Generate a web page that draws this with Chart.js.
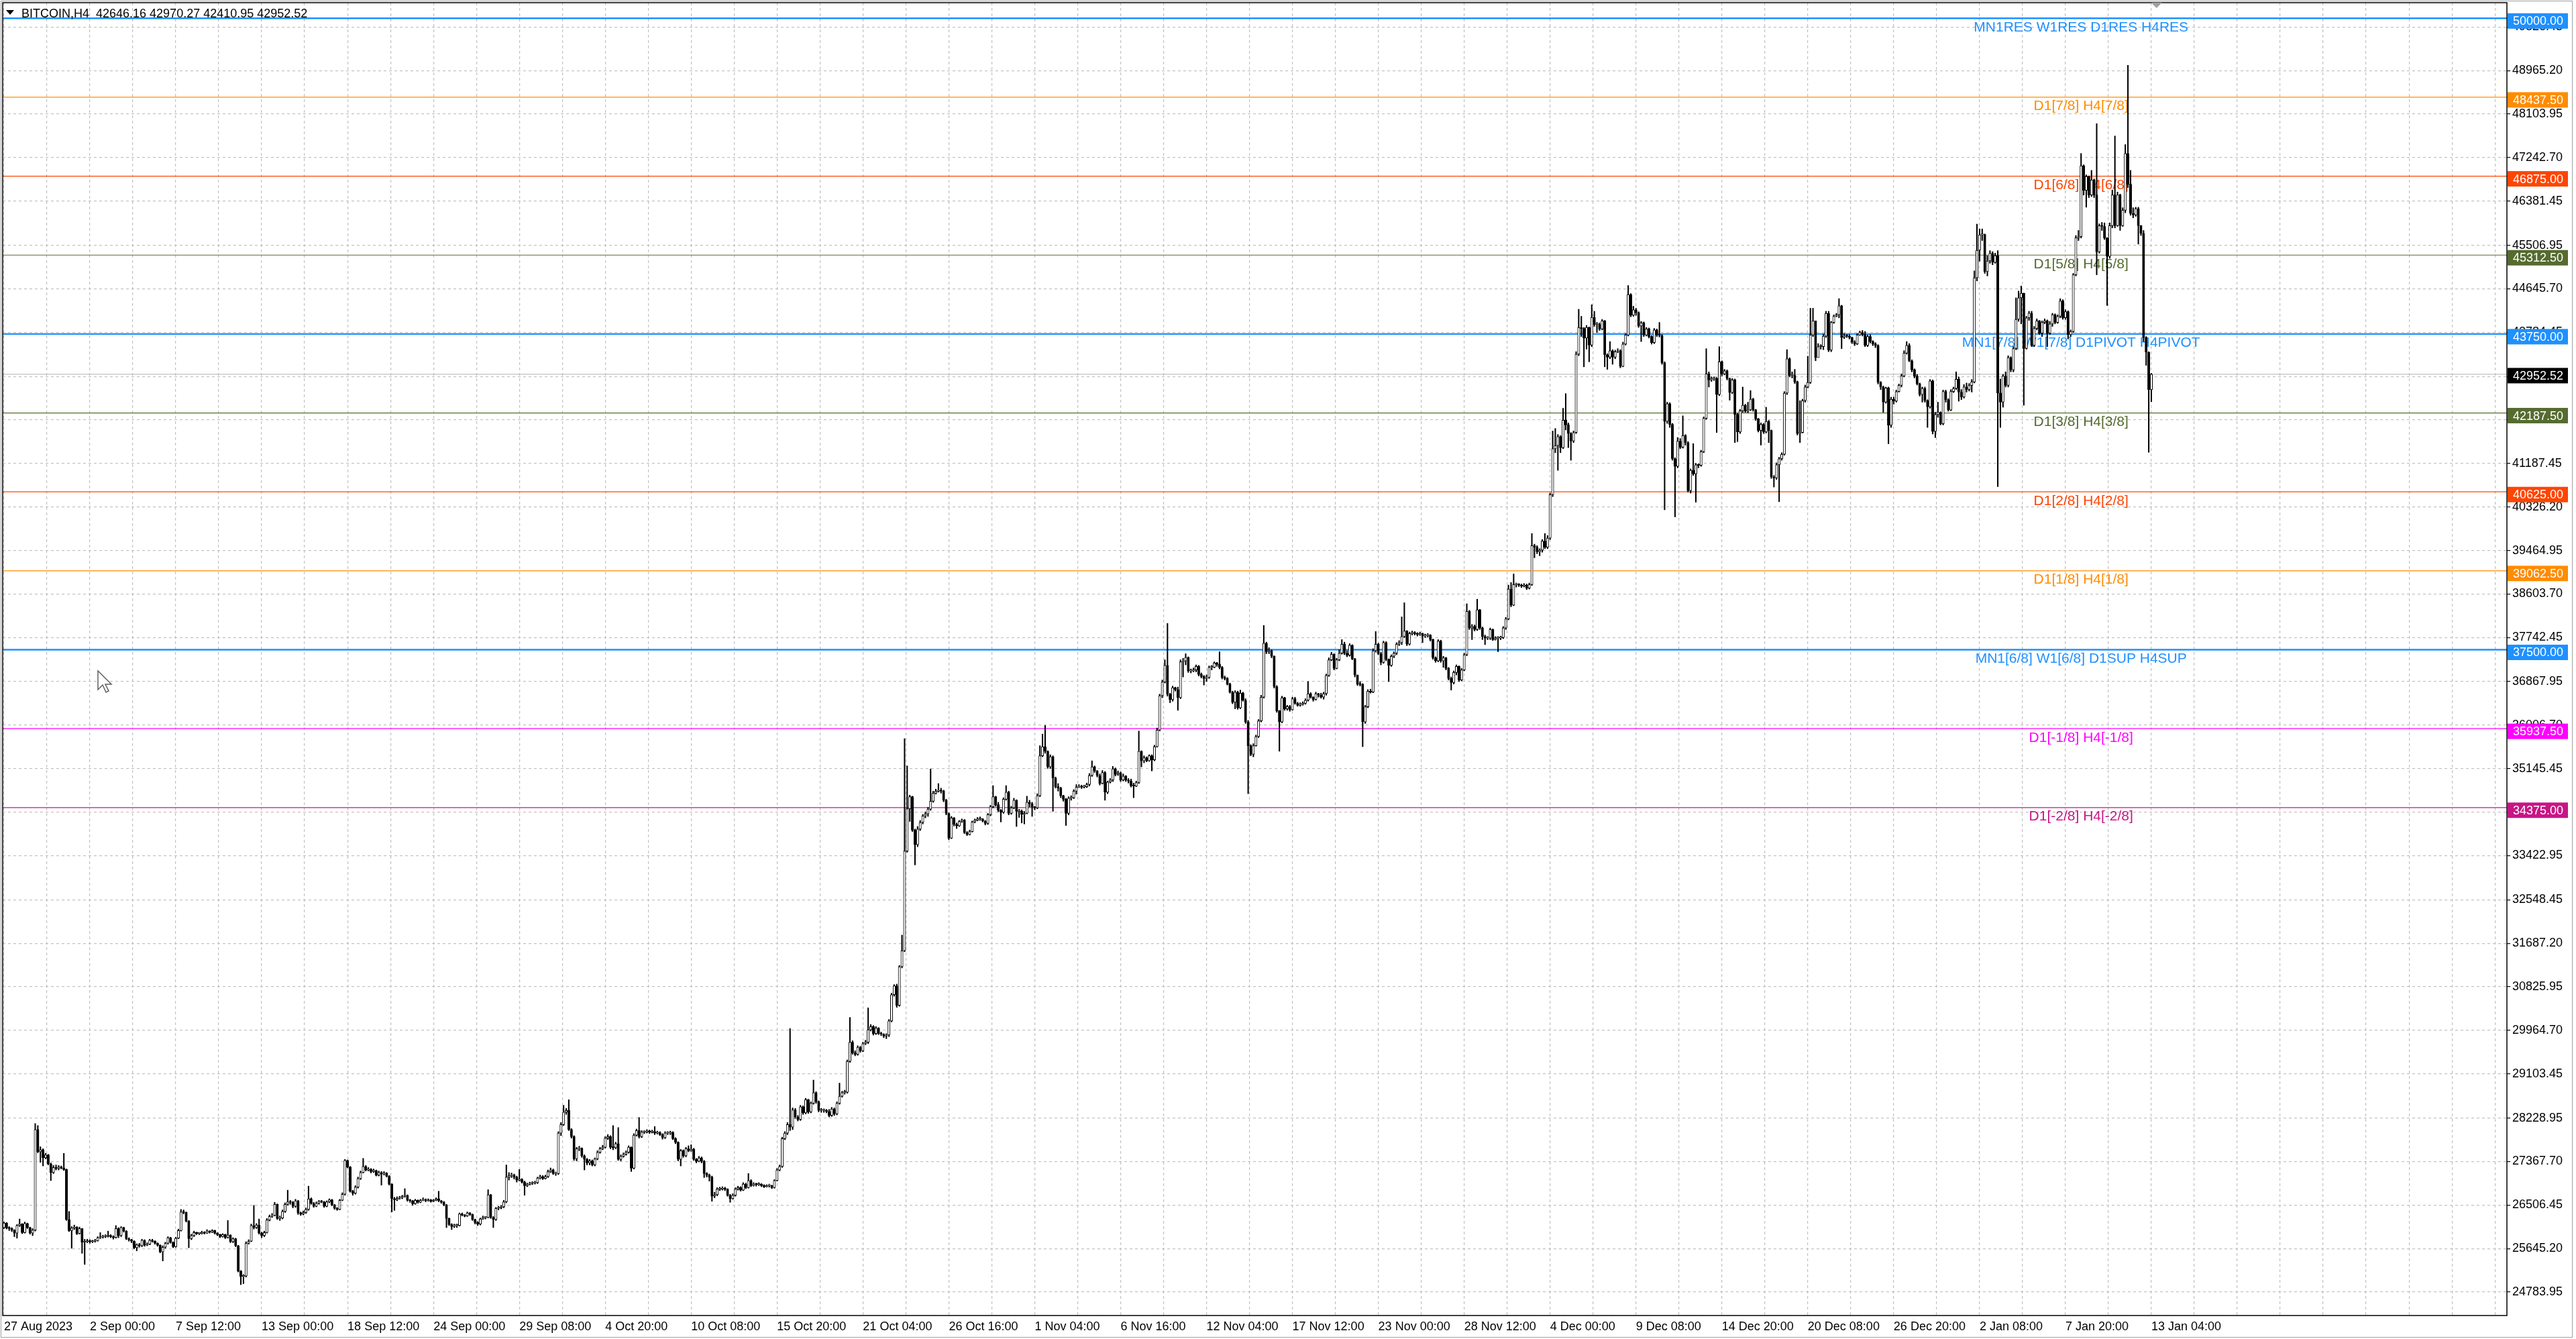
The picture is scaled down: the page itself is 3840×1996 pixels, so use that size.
<!DOCTYPE html>
<html>
<head>
<meta charset="utf-8">
<title>BITCOIN,H4</title>
<script src="https://cdn.jsdelivr.net/npm/chart.js@4.4.0/dist/chart.umd.min.js"></script>
<style>
  html, body { margin: 0; padding: 0; background: #fff; overflow: hidden; }
  #wrap { position: relative; width: 100vw; height: 100vh; }
</style>
</head>
<body>
<div id="wrap"><canvas id="chart"></canvas></div>
<script>
// ---- data (one entry per 4h bar, open = previous close) ----
const symbolName = 'BITCOIN,H4';
const firstOpen = 26060;

const closes = [
  // 0
  26150, 26050, 26040, 26010, 25950, 26100, 26130, 25960, 26140, 26060,
  25950, 26010, 28000, 27560, 27600, 27440, 27500, 27320, 27150, 27250,
  27230, 27260, 27240, 27210, 26220, 26000, 26050, 26070, 25940, 26040,
  25770, 25780, 25800, 25780, 25790, 25800, 25860, 25870, 25880, 25890,
  25900, 25880, 25860, 26040, 25900, 26060, 25990, 25840, 25820, 25790,
  25660, 25720, 25700, 25810, 25710, 25730, 25810, 25790, 25750, 25710,
  25580, 25670, 25750, 25860, 25770, 25680, 25850, 26000, 26370, 26360,
  26190, 25840, 25900, 25960, 25940, 25940, 25960, 25950, 25990, 25970,
  26000, 25950, 25920, 25880, 25920, 25860, 25910, 25780, 25840, 25700,
  25200, 25090, 25100, 25750, 25790, 26100, 26060, 26110, 25950, 25900,
  // 100
  25960, 26210, 26280, 26300, 26520, 26240, 26250, 26380, 26520, 26570,
  26560, 26480, 26590, 26350, 26330, 26360, 26420, 26630, 26540, 26480,
  26540, 26580, 26570, 26480, 26570, 26610, 26510, 26440, 26420, 26600,
  26720, 27390, 27260, 26780, 26740, 26860, 27030, 27150, 27270, 27200,
  27210, 27170, 27190, 27100, 27150, 27120, 27140, 27080, 26920, 26630,
  26610, 26640, 26650, 26680, 26700, 26600, 26590, 26530, 26600, 26560,
  26600, 26620, 26590, 26610, 26580, 26600, 26630, 26590, 26560, 26510,
  26240, 26120, 26080, 26100, 26100, 26330, 26310, 26290, 26350, 26320,
  26220, 26160, 26130, 26230, 26260, 26260, 26710, 26260, 26220, 26440,
  26450, 26470, 26570, 27060, 27090, 27100, 27060, 27000, 27010, 26960,
  // 200
  26890, 26910, 26940, 26940, 26950, 27040, 27070, 27030, 27070, 27165,
  27200, 27130, 27130, 27930, 28100, 28345, 28380, 28000, 27860, 27420,
  27620, 27630, 27480, 27410, 27340, 27380, 27300, 27420, 27550, 27620,
  27650, 27830, 27860, 27650, 27640, 27720, 27410, 27470, 27510, 27550,
  27650, 27235, 27890, 27980, 27860, 27950, 27950, 27975, 27950, 27960,
  27930, 27940, 27900, 27840, 27930, 27930, 27940, 27820, 27750, 27410,
  27580, 27480, 27620, 27580, 27610, 27410, 27370, 27440, 27370, 27130,
  27100, 27060, 26680, 26710, 26820, 26820, 26840, 26820, 26700, 26630,
  26700, 26820, 26850, 26800, 26920, 26850, 26990, 26890, 26920, 26910,
  26920, 26890, 26870, 26890, 26890, 26850, 26990, 27200, 27270, 27820,
  // 300
  27930, 28100, 28050, 28390, 28250, 28200, 28450, 28330, 28590, 28350,
  28520, 28730, 28550, 28380, 28380, 28380, 28360, 28280, 28410, 28310,
  28520, 28660, 28730, 28740, 29350, 29730, 29520, 29490, 29630, 29560,
  29700, 29730, 29975, 30040, 29900, 30010, 29900, 29890, 29850, 29870,
  30150, 30670, 30845, 30460, 31225, 31540, 33515, 34350, 34590, 33930,
  33640, 33950, 34080, 34210, 34250, 34345, 34500, 34660, 34700, 34720,
  34700, 34520, 34260, 33770, 34170, 34040, 34010, 34100, 34125, 33880,
  33840, 33900, 34090, 34125, 34150, 34150, 34110, 34060, 34235, 34390,
  34590, 34430, 34320, 34280, 34540, 34680, 34260, 34370, 34520, 34300,
  34300, 34240, 34260, 34480, 34450, 34390, 34370, 34610, 35400, 35580,
  // 400
  35490, 35180, 35380, 34960, 34790, 34760, 34610, 34540, 34260, 34560,
  34570, 34700, 34780, 34800, 34780, 34790, 34830, 35010, 35180, 35100,
  35010, 34850, 35070, 34680, 34880, 34920, 35140, 35030, 35060, 34920,
  35000, 34920, 34900, 34810, 34800, 34870, 35490, 35300, 35360, 35300,
  35400, 35320, 35580, 35910, 36590, 36860, 37190, 36620, 36510, 36750,
  36710, 36550, 37260, 37280, 37345, 37080, 37080, 37100, 37170, 37010,
  36970, 36930, 36950, 37150, 37150, 37235, 37210, 37150, 36950, 36930,
  36820, 36660, 36460, 36660, 36350, 36640, 36500, 36070, 35600, 35430,
  35600, 35780, 36090, 36560, 37630, 37460, 37480, 37370, 36770, 36290,
  36070, 36550, 36330, 36375, 36310, 36530, 36440, 36400, 36420, 36440,
  // 500
  36500, 36630, 36560, 36510, 36630, 36600, 36560, 36630, 36990, 37300,
  37410, 37130, 37300, 37430, 37610, 37430, 37390, 37590, 37320, 37000,
  36820, 36810, 36070, 36370, 36680, 36660, 37480, 37610, 37420, 37250,
  37640, 37310, 37190, 37370, 37430, 37610, 37640, 37760, 37870, 37610,
  37820, 37830, 37820, 37800, 37820, 37770, 37780, 37790, 37700, 37340,
  37280, 37670, 37280, 37340, 37130, 36930, 36850, 37050, 37170, 36900,
  37100, 37400, 38260, 37930, 37960, 37900, 38290, 37930, 37760, 37730,
  37730, 37900, 37700, 37730, 37730, 37740, 37930, 38110, 38700, 38380,
  38790, 38790, 38780, 38760, 38780, 38720, 38790, 39560, 39530, 39440,
  39470, 39650, 39530, 39710, 40570, 41480, 41540, 41720, 41500, 42045,
  // 600
  41950, 41780, 41630, 41800, 43350, 43880, 43860, 43670, 43880, 43530,
  44080, 43940, 43940, 43850, 44010, 43340, 43290, 43420, 43290, 43400,
  43420, 43110, 43550, 43730, 44530, 44120, 44230, 44170, 43910, 43970,
  43730, 43850, 43700, 43580, 43830, 43730, 43720, 43180, 42020, 42370,
  41960, 41280, 41130, 41630, 41510, 41740, 41600, 40650, 41050, 40980,
  41160, 41150, 41420, 42080, 42960, 42840, 42870, 42870, 42550, 43200,
  42960, 43020, 42870, 42590, 42840, 42160, 41810, 42230, 42340, 42220,
  42250, 42460, 42250, 42070, 41840, 41960, 41810, 42020, 41840, 40920,
  40900, 41160, 41280, 41370, 42580, 43260, 42930, 42930, 42800, 41780,
  41800, 42430, 42700, 42790, 43730, 44010, 43280, 43500, 43500, 43706,
  // 700
  44160, 43430, 43980, 44100, 44130, 44310, 43680, 43710, 43706, 43680,
  43590, 43555, 43730, 43780, 43740, 43524, 43700, 43600, 43555, 43520,
  42795, 42703, 42400, 42680, 41943, 42460, 42420, 42610, 42735, 42920,
  43372, 43524, 43220, 43040, 42916, 42764, 42551, 42673, 42430, 42308,
  42820, 41822, 42156, 42200, 41974, 42612, 42450, 42247, 42612, 42673,
  42855, 42600, 42500, 42700, 42650, 42730, 42800, 44862, 45409, 45713,
  45720, 44983, 45196, 45348, 45166, 45300, 42582, 42400, 42916, 42734,
  43281, 43040, 43463, 44041, 44466, 44558, 43463, 44070, 44163, 43524,
  43859, 44010, 43767, 43980, 44010, 43767, 43950, 44132, 43980, 44100,
  44406, 44071, 44193, 43737, 43800, 44922, 45652, 45680, 47081, 46595,
  // 800
  46868, 46503, 46800, 46503, 45378, 45895, 45880, 45652, 45287, 45895,
  46503, 45895, 46503, 45895, 46200, 47324, 46716, 46138, 46108, 46230,
  45895, 45743, 43676, 43390, 42646.16, 42952.52
];

const highs = [
  // 0
  26170, 26160, 26080, 26060, 26020, 26120, 26230, 26140, 26170, 26150,
  26070, 26040, 28120, 28080, 27660, 27620, 27530, 27510, 27340, 27290,
  27300, 27290, 27280, 27530, 27220, 26380, 26080, 26110, 26080, 26070,
  26040, 25830, 25830, 25820, 25810, 25830, 25880, 25960, 25910, 25920,
  25990, 25920, 25900, 26100, 26060, 26080, 26070, 26000, 25860, 25830,
  25800, 25740, 25750, 25830, 25820, 25760, 25830, 25830, 25800, 25760,
  25720, 25700, 25770, 25880, 25870, 25780, 25870, 26030, 26420, 26410,
  26370, 26200, 25930, 25990, 25970, 25960, 25990, 25980, 26020, 26000,
  26020, 26010, 25960, 25930, 25940, 25930, 26200, 25920, 25860, 25850,
  25710, 25210, 25130, 25780, 25820, 26130, 26500, 26140, 26230, 25970,
  // 100
  25990, 26240, 26310, 26340, 26560, 26530, 26290, 26410, 26550, 26800,
  26600, 26580, 26620, 26600, 26370, 26390, 26450, 26880, 26650, 26560,
  26570, 26600, 26600, 26580, 26590, 26630, 26620, 26520, 26460, 26620,
  26750, 27410, 27400, 27270, 26800, 26890, 27060, 27180, 27430, 27290,
  27250, 27230, 27220, 27200, 27180, 27170, 27170, 27150, 27090, 26930,
  26660, 26670, 26680, 26700, 26830, 26710, 26620, 26600, 26620, 26610,
  26620, 26650, 26630, 26630, 26620, 26620, 26650, 26780, 26600, 26580,
  26520, 26250, 26140, 26130, 26130, 26350, 26350, 26320, 26370, 26360,
  26330, 26230, 26180, 26250, 26290, 26280, 26810, 26720, 26280, 26460,
  26480, 26500, 26600, 27300, 27150, 27140, 27120, 27080, 27210, 27030,
  // 200
  26980, 26940, 26960, 26970, 26980, 27060, 27100, 27090, 27100, 27200,
  27240, 27220, 27160, 27960, 28140, 28480, 28420, 28590, 28020, 27880,
  27650, 27670, 27640, 27500, 27430, 27410, 27400, 27440, 27580, 27650,
  27690, 27860, 27900, 27880, 28080, 27750, 28040, 27500, 27540, 27580,
  27680, 27660, 27920, 28010, 28240, 27980, 27980, 28000, 27990, 27990,
  28060, 27970, 27960, 27920, 27960, 27960, 27970, 27960, 27840, 27760,
  27610, 27600, 27650, 27680, 27700, 27630, 27430, 27470, 27460, 27390,
  27150, 27120, 27080, 26760, 26850, 26860, 26870, 26860, 26830, 26720,
  26730, 26850, 26880, 26870, 26950, 26940, 27130, 27010, 26950, 26940,
  26950, 26930, 26910, 26910, 26920, 26900, 27010, 27230, 27300, 27850,
  // 300
  27960, 28140, 30000, 28430, 28420, 28280, 28480, 28470, 28620, 28600,
  28550, 28980, 28750, 28570, 28420, 28410, 28400, 28400, 28440, 28430,
  28550, 28920, 28760, 28780, 29380, 30220, 29760, 29560, 29660, 29650,
  29730, 29770, 30410, 30080, 30060, 30040, 30020, 29930, 29900, 29900,
  30180, 30700, 30870, 30880, 31250, 31850, 35740, 35200, 34620, 34600,
  33950, 34000, 34120, 34240, 34290, 34380, 35140, 34700, 34740, 34850,
  34760, 34720, 34540, 34270, 34200, 34180, 34070, 34120, 34150, 34140,
  33900, 33930, 34110, 34150, 34180, 34190, 34160, 34120, 34260, 34420,
  34810, 34600, 34480, 34340, 34570, 34810, 34700, 34400, 34560, 34530,
  34340, 34330, 34300, 34600, 34520, 34480, 34400, 34650, 35600, 35830,
  // 400
  36000, 35500, 35420, 35400, 34980, 34850, 34780, 34620, 34560, 34590,
  34610, 34730, 34830, 34830, 34820, 34820, 34860, 35050, 35300, 35200,
  35110, 35040, 35110, 35090, 34900, 34950, 35190, 35160, 35100, 35080,
  35040, 35010, 34950, 34940, 34860, 34900, 35890, 35500, 35400, 35380,
  35420, 35420, 35610, 35950, 36620, 36900, 37300, 38020, 36640, 36780,
  36760, 36760, 37300, 37330, 37420, 37360, 37120, 37140, 37200, 37190,
  37040, 36990, 37000, 37180, 37190, 37260, 37250, 37460, 37170, 36980,
  36950, 36840, 36680, 36690, 36680, 36700, 36660, 36530, 36100, 35620,
  35640, 35810, 36120, 36600, 37980, 37650, 37540, 37500, 37380, 36790,
  36300, 36580, 36560, 36400, 36400, 36560, 36560, 36460, 36450, 36470,
  // 500
  36530, 36870, 36650, 36570, 36660, 36640, 36640, 36660, 37020, 37340,
  37450, 37420, 37330, 37500, 37700, 37650, 37480, 37620, 37600, 37330,
  37000, 36870, 36830, 36400, 36710, 36720, 37520, 37860, 37630, 37450,
  37670, 37660, 37320, 37400, 37460, 37640, 37680, 38150, 38430, 37880,
  37850, 37870, 37860, 37840, 37850, 37830, 37810, 37820, 37800, 37710,
  37360, 37700, 37690, 37370, 37350, 37150, 36960, 37080, 37200, 37180,
  37130, 37430, 38410, 38280, 38000, 37990, 38500, 38300, 37950, 37790,
  37760, 37930, 37910, 37760, 37760, 37770, 37960, 38140, 38780, 38830,
  39000, 38820, 38810, 38800, 38810, 38800, 38820, 39800, 39590, 39560,
  39500, 39680, 39800, 39760, 40600, 41830, 41880, 41760, 41740, 42280,
  // 600
  42570, 41990, 41800, 41830, 43400, 44240, 44100, 43880, 43920, 43890,
  44330, 44200, 43980, 43970, 44040, 44020, 43360, 43600, 43440, 43430,
  43460, 43440, 43590, 43760, 44710, 44550, 44300, 44260, 44190, 44000,
  43990, 43880, 43870, 43720, 43860, 43850, 43980, 43740, 43200, 42400,
  42390, 41980, 41300, 41700, 41680, 42130, 41760, 41620, 41080, 41580,
  41190, 41180, 41450, 42110, 43460, 43000, 42900, 42900, 42890, 43500,
  43220, 43050, 43040, 42880, 42870, 42860, 42180, 42260, 42700, 42360,
  42400, 42630, 42480, 42260, 42080, 41990, 41980, 42300, 42040, 41850,
  40950, 41200, 41310, 41400, 42610, 43440, 43280, 43000, 43050, 42820,
  42430, 42460, 42740, 43310, 44260, 44260, 44010, 43560, 43540, 43750,
  // 700
  44200, 44200, 44000, 44130, 44160, 44450, 44320, 43760, 43740, 43740,
  43690, 43620, 43760, 43810, 43820, 43800, 43730, 43740, 43620, 43580,
  43540, 42810, 42720, 42700, 42700, 42500, 42500, 42640, 42760, 42960,
  43420, 43600, 43560, 43240, 43060, 42950, 42780, 42700, 42700, 42450,
  42850, 42840, 42200, 42400, 42210, 42640, 42640, 42470, 42650, 42700,
  43000, 42900, 42650, 42750, 42780, 42770, 42850, 45000, 45926, 45830,
  45830, 45730, 45300, 45400, 45380, 45350, 45400, 42860, 42950, 43000,
  43320, 43300, 43500, 44466, 44600, 44700, 44560, 44100, 44200, 44200,
  43900, 44050, 44020, 44010, 44050, 44030, 44000, 44160, 44150, 44130,
  44450, 44430, 44230, 44210, 43830, 44950, 45700, 45800, 47324, 47100,
  // 800
  46900, 46880, 46990, 46820, 47914, 45930, 45960, 45950, 45660, 45950,
  46600, 47670, 46560, 46520, 46250, 47500, 49070, 46990, 46250, 46260,
  46260, 45900, 45800, 43700, 43400, 42970.27
];

const lows = [
  // 0
  26040, 26030, 26000, 25980, 25880, 25850, 26080, 25940, 25950, 26040,
  25930, 25900, 25990, 27540, 27350, 27280, 27420, 27300, 26990, 27130,
  27200, 27200, 27220, 27190, 26200, 25980, 25650, 26020, 25920, 25930,
  25550, 25330, 25760, 25750, 25760, 25770, 25790, 25840, 25850, 25860,
  25870, 25860, 25830, 25850, 25860, 25880, 25970, 25820, 25790, 25760,
  25640, 25600, 25670, 25680, 25690, 25700, 25720, 25770, 25730, 25690,
  25560, 25400, 25650, 25730, 25750, 25660, 25670, 25840, 25990, 26330,
  26170, 25660, 25820, 25880, 25920, 25920, 25930, 25930, 25940, 25950,
  25960, 25930, 25900, 25860, 25870, 25840, 25850, 25760, 25760, 25680,
  25180, 24930, 24950, 25080, 25730, 25780, 26030, 26040, 25930, 25860,
  // 100
  25880, 25950, 26190, 26260, 26290, 26220, 26200, 26230, 26360, 26500,
  26520, 26450, 26460, 26320, 26300, 26310, 26340, 26400, 26520, 26460,
  26470, 26520, 26550, 26460, 26470, 26550, 26490, 26420, 26400, 26410,
  26590, 26700, 27240, 26760, 26700, 26720, 26840, 27010, 27140, 27180,
  27180, 27140, 27150, 27080, 27080, 26900, 27100, 27060, 26900, 26370,
  26400, 26590, 26620, 26630, 26660, 26580, 26560, 26500, 26520, 26540,
  26550, 26590, 26570, 26580, 26560, 26570, 26590, 26570, 26540, 26490,
  26060, 26100, 26020, 26060, 26060, 26090, 26290, 26270, 26280, 26300,
  26200, 26130, 26100, 26110, 26220, 26230, 26250, 26240, 26060, 26200,
  26410, 26430, 26450, 26550, 27000, 27050, 27020, 26960, 26980, 26940,
  // 200
  26700, 26870, 26900, 26910, 26920, 26930, 27020, 27010, 27020, 27050,
  27150, 27110, 27090, 27110, 27880, 28080, 28300, 27980, 27830, 27390,
  27380, 27580, 27450, 27200, 27300, 27300, 27280, 27280, 27400, 27530,
  27600, 27630, 27800, 27620, 27600, 27620, 27390, 27380, 27450, 27490,
  27530, 27170, 27220, 27870, 27830, 27840, 27920, 27930, 27920, 27930,
  27900, 27910, 27880, 27810, 27820, 27900, 27900, 27800, 27720, 27380,
  27280, 27450, 27460, 27560, 27570, 27390, 27340, 27360, 27340, 27050,
  27060, 26980, 26580, 26650, 26690, 26790, 26800, 26790, 26680, 26560,
  26620, 26680, 26800, 26780, 26790, 26830, 26840, 26870, 26880, 26880,
  26890, 26870, 26850, 26860, 26860, 26830, 26840, 26980, 27180, 27250,
  // 300
  27800, 27900, 27980, 28000, 28220, 28170, 28180, 28300, 28310, 28320,
  28330, 28500, 28520, 28350, 28340, 28340, 28330, 28250, 28260, 28280,
  28290, 28500, 28640, 28700, 28720, 29330, 29490, 29460, 29470, 29530,
  29540, 29680, 29700, 29950, 29870, 29880, 29880, 29860, 29820, 29800,
  29840, 30130, 30640, 30420, 30440, 31200, 31520, 33490, 34100, 33900,
  33240, 33600, 33920, 34050, 34170, 34200, 34320, 34480, 34640, 34680,
  34660, 34490, 34230, 33740, 33760, 34010, 33960, 34000, 34080, 33860,
  33820, 33830, 33890, 34070, 34110, 34120, 34090, 34030, 34040, 34210,
  34370, 34400, 34290, 34090, 34260, 34520, 34230, 34240, 34350, 34000,
  34180, 34070, 34050, 34250, 34390, 34200, 34330, 34350, 34590, 35380,
  // 400
  35450, 35150, 35150, 34300, 34760, 34700, 34570, 34500, 34020, 34230,
  34520, 34550, 34640, 34770, 34750, 34760, 34770, 34800, 34990, 35070,
  34980, 34820, 34840, 34520, 34650, 34860, 34890, 35000, 35010, 34890,
  34900, 34890, 34860, 34780, 34570, 34790, 34850, 35180, 35260, 35280,
  35290, 35100, 35300, 35570, 35890, 36550, 36840, 36580, 36450, 36480,
  36680, 36300, 36530, 36960, 37200, 37050, 37040, 37060, 37060, 36980,
  36940, 36800, 36870, 36930, 37100, 37140, 37170, 37120, 36920, 36900,
  36800, 36640, 36430, 36330, 36320, 36330, 36480, 36040, 34650, 35400,
  35380, 35590, 35760, 36070, 36540, 37420, 37420, 37340, 36740, 36260,
  35490, 36050, 36300, 36300, 36280, 36300, 36420, 36380, 36380, 36400,
  // 500
  36420, 36480, 36540, 36480, 36500, 36560, 36540, 36520, 36600, 36970,
  37280, 37100, 37120, 37280, 37410, 37400, 37360, 37370, 37300, 36960,
  36790, 36780, 35580, 36040, 36350, 36640, 36650, 37450, 37400, 37200,
  37230, 37280, 36870, 37170, 37340, 37400, 37580, 37600, 37740, 37580,
  37590, 37790, 37790, 37770, 37780, 37640, 37740, 37750, 37670, 37310,
  37250, 37260, 37250, 37150, 37100, 36900, 36700, 36820, 37000, 36870,
  36880, 37080, 37380, 37900, 37700, 37870, 37880, 37900, 37700, 37600,
  37700, 37700, 37680, 37690, 37460, 37700, 37720, 37900, 38090, 38350,
  38370, 38740, 38750, 38730, 38740, 38690, 38700, 38770, 39320, 39400,
  39360, 39430, 39500, 39500, 39680, 40530, 41400, 41050, 41400, 41480,
  // 600
  41850, 41500, 41250, 41600, 41780, 43320, 43700, 43100, 43450, 43200,
  43500, 43900, 43780, 43820, 43830, 43100, 43050, 43260, 43150, 43260,
  43380, 43080, 43100, 43530, 43710, 44090, 44100, 44120, 43880, 43600,
  43700, 43710, 43670, 43550, 43560, 43700, 43690, 43150, 40270, 41980,
  41900, 41250, 40130, 41100, 41480, 41490, 41550, 40620, 40600, 40950,
  40420, 41100, 41130, 41400, 42060, 42700, 42810, 42830, 41800, 42530,
  42920, 42940, 42840, 42440, 42570, 41600, 41620, 41780, 42200, 42200,
  42190, 42230, 42220, 42040, 41810, 41550, 41780, 41790, 41600, 40890,
  40720, 40870, 40430, 41250, 41350, 42550, 42900, 42880, 42770, 41750,
  41600, 41790, 42400, 42680, 42770, 43700, 43220, 43400, 43450, 43440,
  // 700
  43680, 43400, 43400, 43960, 44090, 44070, 43460, 43660, 43680, 43650,
  43560, 43520, 43540, 43720, 43710, 43500, 43500, 43570, 43520, 43480,
  42760, 42650, 42200, 42380, 41578, 41900, 42360, 42400, 42600, 42700,
  42900, 43350, 43200, 43000, 42880, 42740, 42520, 42400, 42400, 41900,
  42280, 41770, 41700, 42100, 41950, 41950, 42400, 42220, 42230, 42590,
  42650, 42420, 42450, 42480, 42600, 42620, 42600, 42780, 44800, 45190,
  45600, 44950, 44900, 45150, 45120, 45150, 40727, 41900, 42300, 42700,
  42700, 43000, 43000, 43440, 44000, 43950, 42340, 43450, 44020, 43500,
  43500, 43830, 43740, 43700, 43950, 43500, 43740, 43900, 43950, 43960,
  44070, 44040, 44040, 43650, 43700, 43780, 44900, 45600, 45650, 46500,
  // 800
  46260, 46450, 46470, 46450, 44922, 45350, 45800, 45620, 44314, 45250,
  45850, 45850, 45880, 45800, 45880, 46150, 46650, 46100, 46050, 46080,
  45530, 45700, 43600, 43130, 41408, 42410.95
];

const xTickLabels = [
  '27 Aug 2023', '2 Sep 00:00', '7 Sep 12:00', '13 Sep 00:00', '18 Sep 12:00',
  '24 Sep 00:00', '29 Sep 08:00', '4 Oct 20:00', '10 Oct 08:00', '15 Oct 20:00',
  '21 Oct 04:00', '26 Oct 16:00', '1 Nov 04:00', '6 Nov 16:00', '12 Nov 04:00',
  '17 Nov 12:00', '23 Nov 00:00', '28 Nov 12:00', '4 Dec 00:00', '9 Dec 08:00',
  '14 Dec 20:00', '20 Dec 08:00', '26 Dec 20:00', '2 Jan 08:00', '7 Jan 20:00',
  '13 Jan 04:00'
];

const yTickValues = [
  24783.95, 25645.20, 26506.45, 27367.70, 28228.95, 29103.45, 29964.70, 30825.95,
  31687.20, 32548.45, 33422.95, 34284.20, 35145.45, 36006.70, 36867.95, 37742.45,
  38603.70, 39464.95, 40326.20, 41187.45, 42048.70, 42909.95, 43784.45, 44645.70,
  45506.95, 46381.45, 47242.70, 48103.95, 48965.20, 49826.45
];

// Murrey math levels drawn by the indicator
const levelValues = [50000, 48437.5, 46875, 45312.5, 43750, 42187.5, 40625, 39062.5, 37500, 35937.5, 34375];
const levelNames = [
  'MN1RES W1RES D1RES H4RES', 'D1[7/8] H4[7/8]', 'D1[6/8] H4[6/8]', 'D1[5/8] H4[5/8]',
  'MN1[7/8] W1[7/8] D1PIVOT H4PIVOT', 'D1[3/8] H4[3/8]', 'D1[2/8] H4[2/8]', 'D1[1/8] H4[1/8]',
  'MN1[6/8] W1[6/8] D1SUP H4SUP', 'D1[-1/8] H4[-1/8]', 'D1[-2/8] H4[-2/8]'
];

// ---- styles / layout ----
const levelColors = ['#1e90ff', '#ff8c00', '#ff4500', '#556b2f', '#1e90ff', '#556b2f',
                     '#ff4500', '#ff8c00', '#1e90ff', '#ff00ff', '#c71585'];
const levelWidths = [2.4, 1.2, 1.2, 1.2, 2.4, 1.2, 1.2, 1.2, 2.4, 1.2, 1.2];
const FONT = '"Liberation Sans", Arial, sans-serif';
const BARS_PER_LABEL = 33;
const GRID_STEP = BARS_PER_LABEL / 2;
const X_MIN = -0.5;
const X_MAX = 961.6;
const LABEL_BAR = 798;   // bar the level captions are centred on

const last = closes.length - 1;
const opens = closes.map((c, i) => (i === 0 ? firstOpen : closes[i - 1]));
const wickData = closes.map((c, i) => ({ x: i, y: [lows[i], highs[i]] }));
const bodyData = closes.map((c, i) => ({ x: i, y: [opens[i], c] }));
const bodyFill = closes.map((c, i) => (c >= opens[i] ? '#ffffff' : '#000000'));

const levelDatasets = levelValues.map((v, i) => ({
  type: 'line',
  data: [{ x: X_MIN, y: v }, { x: X_MAX, y: v }],
  borderColor: levelColors[i],
  borderWidth: levelWidths[i],
  pointRadius: 0,
  fill: false,
  order: 5
}));

const bidLine = {
  type: 'line',
  data: [{ x: X_MIN, y: closes[last] }, { x: X_MAX, y: closes[last] }],
  borderColor: '#c0c0c0',
  borderWidth: 1.2,
  pointRadius: 0,
  fill: false,
  order: 6
};

function fmt(v) { return v.toFixed(2); }

// keep the plot area pinned to the layout padding (no room reserved for edge labels)
function noEdgePadding(scale) {
  scale.paddingTop = 0;
  scale.paddingBottom = 0;
  scale.paddingLeft = 0;
  scale.paddingRight = 0;
}

const mt4Plugin = {
  id: 'mt4',
  beforeDraw(chart) {
    const ctx = chart.ctx;
    ctx.save();
    ctx.fillStyle = '#ffffff';
    ctx.fillRect(0, 0, chart.width, chart.height);
    ctx.restore();
  },
  beforeDatasetsDraw(chart) {
    const { ctx, scales: { x, y } } = chart;
    const cx = x.getPixelForValue(LABEL_BAR);
    ctx.save();
    ctx.font = '21px ' + FONT;
    ctx.textAlign = 'center';
    ctx.textBaseline = 'alphabetic';
    levelValues.forEach((v, i) => {
      ctx.fillStyle = levelColors[i];
      ctx.fillText(levelNames[i], cx, y.getPixelForValue(v) + 19.5);
    });
    ctx.restore();
  },
  afterDraw(chart) {
    const { ctx, chartArea: a, scales: { x, y } } = chart;
    ctx.save();

    // window border and chart frame
    ctx.strokeStyle = '#a0a0a0';
    ctx.lineWidth = 1;
    ctx.strokeRect(1.5, 1.5, a.right + 96, chart.height - 4);
    ctx.strokeStyle = '#000000';
    ctx.lineWidth = 1.5;
    ctx.strokeRect(a.left, a.top, a.right - a.left, a.bottom - a.top);

    // price boxes on the right axis
    ctx.font = '18px ' + FONT;
    ctx.textAlign = 'left';
    ctx.textBaseline = 'middle';
    levelValues.forEach((v, i) => {
      const py = y.getPixelForValue(v) + 4;
      ctx.fillStyle = levelColors[i];
      ctx.fillRect(a.right + 1, py - 11.5, 90, 23);
      ctx.fillStyle = '#ffffff';
      ctx.fillText(fmt(v), a.right + 9, py + 1);
    });
    const bidY = y.getPixelForValue(closes[last]) + 2;
    ctx.fillStyle = '#000000';
    ctx.fillRect(a.right + 1, bidY - 11.5, 90, 23);
    ctx.fillStyle = '#ffffff';
    ctx.fillText(fmt(closes[last]), a.right + 9, bidY + 1);

    // symbol caption with the last bar's OHLC
    ctx.fillStyle = '#000000';
    ctx.beginPath();
    ctx.moveTo(9, 15); ctx.lineTo(21, 15); ctx.lineTo(15, 22); ctx.closePath();
    ctx.fill();
    ctx.textBaseline = 'alphabetic';
    ctx.fillText(symbolName + '  ' + fmt(opens[last]) + ' ' + fmt(highs[last]) + ' ' +
                 fmt(lows[last]) + ' ' + fmt(closes[last]), 32, 26);

    // chart shift marker
    const sx = x.getPixelForValue(last + 2);
    ctx.fillStyle = '#a0a0a0';
    ctx.beginPath();
    ctx.moveTo(sx - 8, a.top); ctx.lineTo(sx + 8, a.top); ctx.lineTo(sx, a.top + 8); ctx.closePath();
    ctx.fill();

    // mouse pointer left in the screenshot
    ctx.translate(146, 1000);
    ctx.beginPath();
    ctx.moveTo(0, 0); ctx.lineTo(0, 28); ctx.lineTo(7, 21); ctx.lineTo(12, 32);
    ctx.lineTo(16, 30); ctx.lineTo(11, 20); ctx.lineTo(20, 20); ctx.closePath();
    ctx.fillStyle = '#ffffff';
    ctx.fill();
    ctx.strokeStyle = '#606060';
    ctx.lineWidth = 1.5;
    ctx.stroke();
    ctx.restore();
  }
};

Chart.defaults.font.family = FONT;
Chart.defaults.color = '#000000';

new Chart(document.getElementById('chart'), {
  type: 'bar',
  data: {
    datasets: [
      bidLine,
      ...levelDatasets,
      {
        label: 'wick',
        data: wickData,
        backgroundColor: '#000000',
        barThickness: 1.4,
        grouped: false,
        order: 2
      },
      {
        label: 'body',
        data: bodyData,
        backgroundColor: bodyFill,
        borderColor: '#000000',
        borderWidth: 1,
        borderSkipped: false,
        barThickness: 3.4,
        minBarLength: 1.5,
        grouped: false,
        order: 1
      }
    ]
  },
  options: {
    responsive: true,
    maintainAspectRatio: false,
    animation: false,
    layout: { padding: { left: 4, top: 4, right: 6, bottom: 4 } },
    plugins: { legend: { display: false }, tooltip: { enabled: false } },
    scales: {
      x: {
        type: 'linear',
        min: X_MIN,
        max: X_MAX,
        offset: false,
        grid: { color: '#c0c0c0', lineWidth: 1.2, drawTicks: false, offset: false },
        border: { display: false, dash: [4, 4] },
        afterBuildTicks(scale) {
          const t = [];
          for (let v = 0; v <= X_MAX; v += GRID_STEP) t.push({ value: v });
          scale.ticks = t;
        },
        afterFit(scale) { scale.height = 31; noEdgePadding(scale); },
        ticks: {
          autoSkip: false,
          maxRotation: 0,
          align: 'start',
          padding: 6,
          font: { size: 18 },
          callback(value) {
            const k = Math.round(value / GRID_STEP);
            if (k % 2 === 0 && k / 2 < xTickLabels.length) return xTickLabels[k / 2];
            return '';
          }
        }
      },
      y: {
        type: 'linear',
        position: 'right',
        min: 24319,
        max: 50309,
        grid: { color: '#c0c0c0', lineWidth: 1.2, tickLength: 5, tickColor: '#000000', tickBorderDash: [] },
        border: { display: false, dash: [4, 4] },
        afterBuildTicks(scale) { scale.ticks = yTickValues.map(v => ({ value: v })); },
        afterFit(scale) { scale.width = 97; noEdgePadding(scale); },
        ticks: {
          autoSkip: false,
          padding: 3,
          font: { size: 18 },
          callback(value) { return Number(value).toFixed(2); }
        }
      }
    }
  },
  plugins: [mt4Plugin]
});
</script>
</body>
</html>
